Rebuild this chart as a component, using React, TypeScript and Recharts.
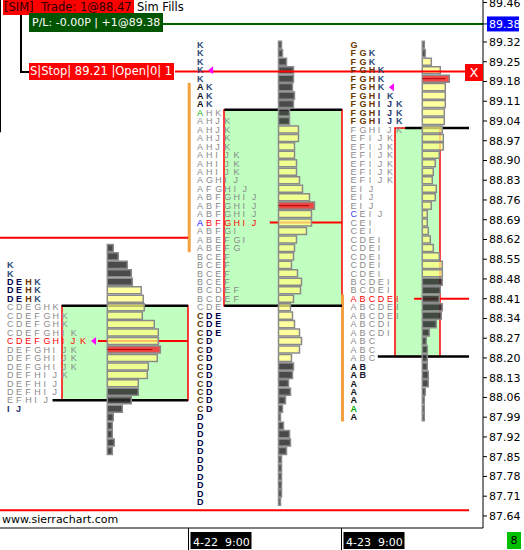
import React from "react";
import { ComposedChart, XAxis, YAxis, Scatter, ReferenceArea, ReferenceLine } from "recharts";

// one TPO row is 0.03 high, row 0 sits at 88.26
const ROW = 0.03;
const ROW0 = 88.26;

// TPO letters per row, top row first (letters packed to the left)
const tpoDay1 = [
  "K", "K", "DEHK", "DEHK", "DEHK", "CDEGHK", "CDEFGHK", "CDEFGHK", "CDEFGHIK",
  "CDEFGHIJK", "DEFGHIJK", "DEFGHIJK", "DEFGHIJK", "DEFHIJK", "DEFHIJ", "DEFHIJ",
  "EFHIJ", "IJ",
];
const tpoDay2 = [
  "K", "K", "K", "K", "K", "AK", "AK", "AK", "AHK", "AHJK", "AHJK", "AHJK", "AHJK",
  "AHIJK", "AHIJK", "AHIJK", "AGHIJ", "AFGHIJ", "ABFGHIJ", "ABFGHIJ", "ABFGHIJ",
  "ABFGHIJ", "ABFGI", "ABEFGI", "ABEFG", "BCEF", "BCEF", "BCEF", "BCEF", "BCDEF",
  "BCDEF", "CDE", "CDE", "CDE", "CDE", "CD", "CD", "CD", "CD", "CD", "CD", "CD",
  "CD", "CD", "D", "D", "D", "D", "D", "D", "D", "D", "D", "D", "D",
];
const tpoDay3 = [
  "G", "FGK", "FGK", "FGHK", "FGHK", "FGHK", "FGHIK", "FGHIJK", "FGHIJK", "FGHIJK",
  "FGHIJK", "EFIJK", "EFIJK", "EFIJK", "EFIJK", "EFIJK", "EFIJK", "EIJ", "EIJ", "EIJ",
  "CEIJ", "CEI", "CEI", "CDEI", "CDEI", "CDEI", "CDEI", "CDEI", "BCDEI", "BCDEI",
  "ABCDEI", "ABCDEI", "ABCDEI", "ABCDI", "ABCDI", "ABC", "ABC", "ABC", "AB", "AB",
  "A", "A", "A", "A", "A",
];
const tpoTopRow = [9, 35, 35];

// volume at price, same rows, top first
const volDay1 = [6, 11, 20, 24, 25, 34, 36, 37, 35, 47, 51, 51, 53, 50, 41, 40, 31, 31, 24, 15, 6, 5, 5, 7, 5];
const volDay2 = [
  3, 4, 8, 15, 15, 14, 16, 15, 11, 11, 20, 20, 16, 16, 18, 18, 21, 24, 31, 36,
  33, 33, 28, 18, 16, 15, 13, 19, 23, 22, 15, 12, 14, 16, 21, 23, 21, 13, 15, 14,
  10, 12, 7, 4, 2, 5, 11, 12, 8, 3, 3, 3, 3, 3, 2,
];
const volDay3 = [
  2, 3, 9, 18, 27, 23, 23, 23, 22, 22, 20, 21, 21, 17, 13, 11, 10, 14, 13, 9,
  5, 5, 6, 8, 11, 17, 20, 20, 20, 18, 17, 20, 19, 14, 7, 4, 5, 5, 5, 6, 6, 3, 2, 2, 2,
];
const volTopRow = [11, 35, 35];
// volume value area rows [high, low]
const volVaRows = [[6, -5], [25, -2], [33, 8]];

// TPO value area, point of control, session close
const vaHigh = [88.385, 89.08, 89.015];
const vaLow = [88.05, 88.385, 88.205];
const pocRow = [0, 14, 5];
const closePrice = [88.26, 89.22, 89.16];
// [day, row, letter index, colour]
const specialLetters: [number, number, number, string][] = [
  [1, 27, 0, "#00b000"],
  [1, 14, 0, "#0000ff"],
  [2, 15, 0, "#3a3aff"],
  [2, -8, 0, "#00b000"],
];

const priceTicks = [
  89.46, 89.32, 89.25, 89.18, 89.11, 89.04, 88.97, 88.9, 88.83, 88.76, 88.69, 88.62, 88.55,
  88.48, 88.41, 88.34, 88.27, 88.2, 88.13, 88.06, 87.99, 87.92, 87.85, 87.78, 87.71, 87.64,
];
const currentPrice = 89.384;
const currentLabel = "89.38";
const stopPrice = 89.215;
const openPocPrice = 88.626;
const alertPrice = 87.66;
const sessionLabels = ["4-22  9:00", "4-23  9:00"];

// layout (x in chart slots)
const X_MAX = 483;
const COL = 9.11;
const layout = [
  { letterX: 7, volX: 107.3, vaX0: 62, vaX1: 188, lineX1: 188, ibX: -10 },
  { letterX: 197, volX: 278.5, vaX0: 224, vaX1: 342, lineX1: 342, ibX: 187.7 },
  { letterX: 350.5, volX: 422.3, vaX0: 395, vaX1: 440, lineX1: 469, ibX: 341 },
];
const sessionTicks = [188.5, 341.5];
const PRICE_MIN = 87.5972;
const PRICE_MAX = 89.4689;

const letterInk: Record<string, string> = {
  A: "#111111", B: "#151530", C: "#5a3000", D: "#00004a", E: "#00004a", F: "#6b3600",
  G: "#6b3600", H: "#6b3600", I: "#1f2f66", J: "#1f2f66", K: "#2c4a78",
};

const rowPrice = (k: number) => ROW0 + k * ROW;
const rowOf = (p: number) => Math.round((p - ROW0) / ROW);

const tpoDays = [tpoDay1, tpoDay2, tpoDay3];
const volDays = [volDay1, volDay2, volDay3];
const lettersIn = (s: number, k: number) => {
  const i = tpoTopRow[s] - k;
  const row = tpoDays[s][i];
  return row ? row.length : 0;
};

const letterPoints = tpoDays.flatMap((rows, s) =>
  rows.flatMap((row, i) => {
    const k = tpoTopRow[s] - i;
    const price = rowPrice(k);
    const inVa = price <= vaHigh[s] + 0.01 && price >= vaLow[s] - 0.01;
    const isPoc = k === pocRow[s];
    return row.split("").map((ch, j) => {
      const sp = specialLetters.find((m) => m[0] === s && m[1] === k && m[2] === j);
      const fill = sp ? sp[3] : isPoc ? "#ff0000" : inVa ? "#8a8a8a" : letterInk[ch];
      return { x: layout[s].letterX + j * COL, y: price, ch, fill, bold: !inVa && !isPoc };
    });
  })
);

const volBars = volDays.flatMap((vols, s) => {
  const pocIdx = vols.indexOf(Math.max(...vols));
  return vols.map((v, i) => {
    const k = volTopRow[s] - i;
    const kind = i === pocIdx ? "poc" : k <= volVaRows[s][0] && k >= volVaRows[s][1] ? "va" : "out";
    return { s, price: rowPrice(k), v, kind };
  });
});

const closeMarks = closePrice.map((p, s) => ({
  x: layout[s].letterX + lettersIn(s, rowOf(p)) * COL + 2,
  y: rowPrice(rowOf(p)),
}));

const ibRanges = tpoDays
  .map((rows, s) => {
    const ks = rows.map((r, i) => (r.includes("A") ? tpoTopRow[s] - i : null)).filter((k) => k !== null) as number[];
    if (!ks.length) return null;
    return { s, hi: rowPrice(Math.max(...ks)) + ROW / 2, lo: rowPrice(Math.min(...ks)) - ROW / 2 };
  })
  .filter(Boolean) as { s: number; hi: number; lo: number }[];

const FONT = "DejaVu Sans, sans-serif";

function PriceTick(props: any) {
  const { x, y, payload } = props;
  const v = payload.value as number;
  const isLast = Math.abs(v - currentPrice) < 1e-6;
  return (
    <g>
      {isLast && <rect x={x - 2} y={y - 7.5} width={32} height={15} fill="#0000ff" />}
      <text x={x} y={y} dy={4} fontSize={11} fontFamily={FONT} fill={isLast ? "#ffffff" : "#000000"}>
        {isLast ? currentLabel : v.toFixed(2)}
      </text>
    </g>
  );
}

function DateTick(props: any) {
  const { x, y, index } = props;
  return (
    <g>
      <line x1={x} x2={x} y1={y} y2={y + 22} stroke="#000" />
      <rect x={x + 2} y={y + 4} width={61} height={17} fill="#000" />
      <text x={x + 4.5} y={y + 17.5} fontSize={11} fontFamily={FONT} fill="#fff" style={{ whiteSpace: "pre" }}>
        {sessionLabels[index]}
      </text>
    </g>
  );
}

const renderLetter = (p: any) => (
  <text
    x={p.cx}
    y={p.cy}
    dy={3.2}
    fontSize={9}
    fontFamily="Liberation Sans, Arial, sans-serif"
    fontWeight={p.payload.bold ? 700 : 400}
    fill={p.payload.fill}
  >
    {p.payload.ch}
  </text>
);

const renderMark = (p: any) => (
  <polygon points={`${p.cx},${p.cy} ${p.cx + 5},${p.cy - 4} ${p.cx + 5},${p.cy + 4}`} fill="#ff00ff" />
);

const boxText: React.CSSProperties = {
  position: "absolute",
  fontFamily: FONT,
  fontSize: 11.5,
  whiteSpace: "pre",
  boxSizing: "border-box",
  overflow: "hidden",
};

export default function App() {
  return (
    <div style={{ position: "absolute", left: 0, top: 0, width: 524, height: 550, background: "#fff" }}>
      <ComposedChart width={524} height={550} margin={{ top: 0, right: 0, bottom: 0, left: 0 }}>
        <XAxis
          type="number"
          dataKey="x"
          domain={[0, X_MAX]}
          ticks={sessionTicks}
          interval={0}
          height={22}
          tickSize={0}
          tickMargin={0}
          tickLine={false}
          axisLine={{ stroke: "#000" }}
          tick={<DateTick />}
          allowDataOverflow
        />
        <YAxis
          type="number"
          dataKey="y"
          orientation="right"
          domain={[PRICE_MIN, PRICE_MAX]}
          ticks={[...priceTicks, currentPrice]}
          interval={0}
          width={41}
          tickSize={4}
          tickMargin={2}
          tickLine={{ stroke: "#000" }}
          axisLine={{ stroke: "#000" }}
          tick={<PriceTick />}
          allowDataOverflow
        />

        {/* TPO value areas */}
        {layout.map((l, s) => (
          <ReferenceArea
            key={`va${s}`}
            x1={l.vaX0}
            x2={l.vaX1}
            y1={vaLow[s]}
            y2={vaHigh[s]}
            fill="#c0ffc0"
            fillOpacity={1}
            stroke="#ff0000"
            strokeWidth={1.5}
            zIndex={110}
          />
        ))}

        {/* range of the A period */}
        {ibRanges.map((r) => (
          <ReferenceArea
            key={`ib${r.s}`}
            x1={layout[r.s].ibX}
            x2={layout[r.s].ibX + 3}
            y1={r.lo}
            y2={r.hi}
            fill="#f5a040"
            fillOpacity={1}
            stroke="none"
            zIndex={112}
          />
        ))}

        <ReferenceLine segment={[{ x: 0, y: openPocPrice }, { x: layout[0].vaX1, y: openPocPrice }]} stroke="#ff0000" strokeWidth={2} zIndex={120} />
        <ReferenceLine segment={[{ x: 0, y: alertPrice }, { x: layout[2].lineX1, y: alertPrice }]} stroke="#ff0000" strokeWidth={2} zIndex={120} />

        {/* value area high/low and POC lines */}
        {layout.map((l, s) => {
          const hiX = l.letterX + lettersIn(s, rowOf(vaHigh[s])) * COL;
          const loX = l.letterX + lettersIn(s, rowOf(vaLow[s])) * COL;
          const pocX = l.letterX + lettersIn(s, pocRow[s]) * COL + 9;
          const pp = rowPrice(pocRow[s]);
          return [
            <ReferenceLine key={`h${s}`} segment={[{ x: hiX, y: vaHigh[s] }, { x: l.lineX1, y: vaHigh[s] }]} stroke="#000" strokeWidth={2.5} zIndex={121} />,
            <ReferenceLine key={`l${s}`} segment={[{ x: loX, y: vaLow[s] }, { x: l.lineX1, y: vaLow[s] }]} stroke="#000" strokeWidth={2.5} zIndex={121} />,
            <ReferenceLine key={`p${s}`} segment={[{ x: pocX, y: pp }, { x: l.lineX1, y: pp }]} stroke="#ff0000" strokeWidth={2} zIndex={121} />,
          ];
        })}

        {/* volume at price */}
        {volBars.map((b, i) => (
          <ReferenceArea
            key={`v${i}`}
            x1={layout[b.s].volX}
            x2={layout[b.s].volX + b.v}
            y1={b.price - 0.0125}
            y2={b.price + 0.0125}
            fill={b.kind === "poc" ? "#f03838" : b.kind === "va" ? "#ffff80" : "#2a2a2a"}
            fillOpacity={b.kind === "poc" ? 0.92 : b.kind === "va" ? 0.75 : 0.85}
            stroke="#8a8a8a"
            strokeWidth={1.5}
            zIndex={130}
          />
        ))}
        {volBars
          .filter((b) => b.kind === "poc")
          .map((b) => (
            <ReferenceLine
              key={`vp${b.s}`}
              segment={[{ x: layout[b.s].volX, y: b.price }, { x: layout[b.s].volX + b.v * 0.85, y: b.price }]}
              stroke="#b00000"
              strokeWidth={1}
              zIndex={131}
            />
          ))}

        {/* trade lines */}
        <ReferenceLine segment={[{ x: 175, y: stopPrice }, { x: 465, y: stopPrice }]} stroke="#ff0000" strokeWidth={2} zIndex={140} />
        <ReferenceLine segment={[{ x: 163, y: currentPrice }, { x: X_MAX, y: currentPrice }]} stroke="#006400" strokeWidth={2} zIndex={140} />
        <ReferenceLine segment={[{ x: 0.5, y: PRICE_MAX }, { x: 0.5, y: 89.0 }]} stroke="#000" strokeWidth={1} zIndex={140} />

        <Scatter data={letterPoints} shape={renderLetter} isAnimationActive={false} zIndex={650} />
        <Scatter data={closeMarks} shape={renderMark} isAnimationActive={false} zIndex={651} />
      </ComposedChart>

      {/* order / trade overlays */}
      <div style={{ ...boxText, left: 3, top: 0, width: 131, height: 15, lineHeight: "15px", background: "#ff0000", color: "#2a0000", paddingLeft: 1 }}>
        {"[SIM]  Trade: 1@88.47"}
      </div>
      <div style={{ ...boxText, left: 137, top: 0, height: 15, lineHeight: "15px", color: "#000" }}>Sim Fills</div>
      <div style={{ position: "absolute", left: 20, top: 15, width: 1.5, height: 57, background: "#000" }} />
      <div style={{ position: "absolute", left: 20, top: 71, width: 9, height: 1.5, background: "#000" }} />
      <div style={{ ...boxText, left: 29, top: 13, width: 134, height: 19, lineHeight: "19px", background: "#005500", color: "#fff", paddingLeft: 3, fontSize: 11 }}>
        {"P/L: -0.00P | +1@89.38"}
      </div>
      <div style={{ ...boxText, left: 29, top: 63, width: 145, height: 17, lineHeight: "17px", background: "#ff0000", color: "#fff", paddingLeft: 1 }}>
        {"S|Stop| 89.21 |Open|0| 1"}
      </div>
      <div style={{ ...boxText, left: 465, top: 64, width: 18, height: 17, lineHeight: "17px", background: "#ff0000", color: "#fff", textAlign: "center", fontSize: 13 }}>
        X
      </div>
      <div style={{ ...boxText, left: 2, top: 512, fontSize: 11, lineHeight: "15px", color: "#000" }}>www.sierrachart.com</div>
      <div style={{ ...boxText, left: 507, top: 532, width: 14, height: 17, lineHeight: "17px", background: "#00c000", color: "#000", textAlign: "center", fontSize: 11 }}>
        8
      </div>
    </div>
  );
}
